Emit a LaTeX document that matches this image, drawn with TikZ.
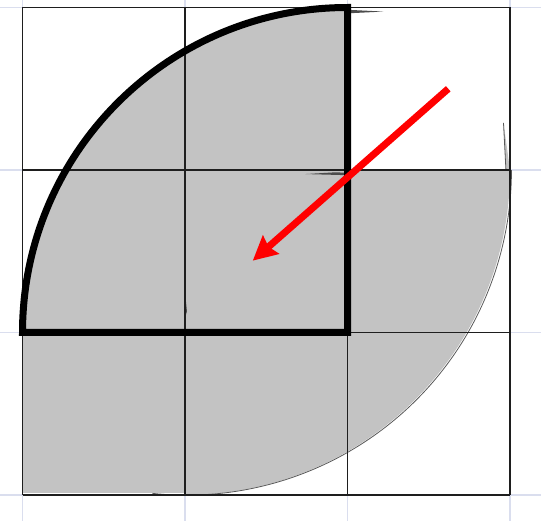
\documentclass[tikz,border=0pt]{standalone}
\usetikzlibrary{arrows.meta}
\definecolor{fillgray}{RGB}{195,195,195}
\definecolor{bggrid}{RGB}{218,222,238}
\definecolor{gridline}{RGB}{30,30,30}
\begin{document}
\begin{tikzpicture}[x=162.5pt,y=162.5pt,
  bgline/.style={draw=bggrid,line width=1.3pt},
  cellline/.style={draw=gridline,line width=1.2pt},
  thickoutline/.style={draw=black,line width=7pt,line join=miter},
  arcline/.style={draw=black!65,line width=0.8pt},
  redarrow/.style={draw=red,line width=7pt,-{Stealth[length=24pt,width=24pt,inset=3pt]}},
  wedge/.style={fill=black!70}]
\useasboundingbox (-0.1385,-0.16) rectangle (3.1908,3.0462);
\fill[white] (-0.1385,-0.16) rectangle (3.1908,3.0462);
% faint background grid
\foreach \i in {0,1,2,3} {
  \draw[bgline] (\i,-0.16) -- (\i,3.0462);
  \draw[bgline] (-0.1385,\i) -- (3.1908,\i);
}
% grey regions
\fill[fillgray] (2,1) -- (0,1) arc[start angle=180,end angle=90,radius=2] -- cycle;
\fill[fillgray] (0,0.012) rectangle (1,1);
\fill[fillgray] (1,2) -- (1,0) arc[start angle=-90,end angle=0,radius=2] -- cycle;
\fill[fillgray] (2.96,2.29) -- (2.975,2) -- (3,2) -- cycle;
% thin outline of the lower grey arc
\draw[arcline] (0.8,0.01) arc[start angle=-96,end angle=0,radius=2];
\draw[arcline] (2.96,2.29) -- (2.975,2);
% small artefact wedges
\fill[wedge] (2,2.986) -- (2.22,2.975) -- (2,2.964) -- cycle;
\fill[wedge] (1.74,1.975) -- (1.93,1.986) -- (2,1.982) -- (2,1.968) -- cycle;
\fill[wedge] (1,1.25) -- (1.012,1.13) -- (1,1.09) -- (0.994,1.16) -- cycle;
% black cell grid
\foreach \i in {0,1,2,3} {
  \draw[cellline] (\i,0) -- (\i,3);
  \draw[cellline] (0,\i) -- (3,\i);
}
% thick quarter-disc outline
\draw[thickoutline] (0,1) -- (2,1) -- (2,3) arc[start angle=90,end angle=180,radius=2] -- cycle;
% red arrow
\coordinate (arrS) at (2.62,2.5);
\coordinate (arrE) at (1.417,1.442);
\draw[redarrow] (arrS) -- (arrE);
\end{tikzpicture}
\end{document}
